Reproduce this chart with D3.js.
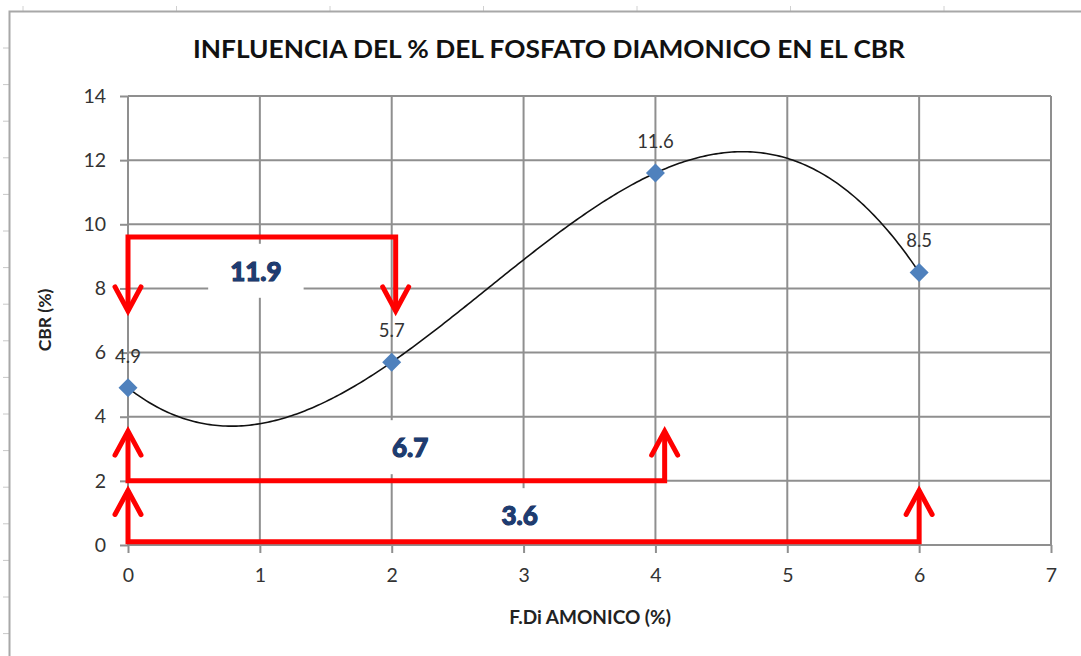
<!DOCTYPE html>
<html>
<head>
<meta charset="utf-8">
<script src="https://cdn.jsdelivr.net/npm/d3@7"></script>
<style>
  html, body { margin: 0; padding: 0; background: #ffffff; }
  svg { display: block; }
  text { font-family: Lato, "Open Sans", "DejaVu Sans", sans-serif; }
</style>
</head>
<body>
<svg id="chart" width="1081" height="656"></svg>
<script>
// ---------------- data ----------------
const title = "INFLUENCIA DEL % DEL FOSFATO DIAMONICO EN EL CBR";
const xAxisTitle = "F.Di AMONICO (%)";
const yAxisTitle = "CBR (%)";
const xValues = [0, 2, 4, 6];          // F.Di AMONICO (%)
const cbrValues = [4.9, 5.7, 11.6, 8.5]; // CBR (%)
const pointLabels = ["4.9", "5.7", "11.6", "8.5"];
const xTicks = [0, 1, 2, 3, 4, 5, 6, 7];
const yTicks = [0, 2, 4, 6, 8, 10, 12, 14];

// hand-drawn red annotation brackets (in data units)
const bracketLabels = ["11.9", "6.7", "3.6"];
const bracketStart = [0, 0, 0];
const bracketEnd = [2.03, 4.07, 6.0];
const bracketLevel = [9.6, 2.0, 0.1];
const bracketTip = [7.3, 3.55, 1.7];
const bracketLabelX = [0.97, 2.14, 2.97];
const bracketLabelY = [8.55, 3.05, 0.93];

// ---------------- layout ----------------
const svg = d3.select("#chart");
const plot = { left: 128, right: 1051, top: 96, bottom: 545 };
const x = d3.scaleLinear().domain([0, 7]).range([plot.left, plot.right]);
const y = d3.scaleLinear().domain([0, 14]).range([plot.bottom, plot.top]);
const gridColor = "#8f8f8f";

// spreadsheet frame remnants
svg.append("g").selectAll("line").data(d3.range(48, 656, 36.6)).join("line")
  .attr("x1", 3).attr("x2", 9).attr("y1", d => d).attr("y2", d => d)
  .attr("stroke", "#c8c8c8").attr("stroke-width", 1);
svg.append("g").selectAll("line").data(d3.range(23, 1081, 153.5)).join("line")
  .attr("x1", d => d).attr("x2", d => d).attr("y1", 6).attr("y2", 11)
  .attr("stroke", "#d0d0d0").attr("stroke-width", 1);
svg.append("path")
  .attr("d", "M9.5,656 L9.5,11.5 L1081,11.5")
  .attr("fill", "none").attr("stroke", "#a8a8a8").attr("stroke-width", 2);

// title
svg.append("text")
  .attr("x", 549).attr("y", 58)
  .attr("text-anchor", "middle")
  .attr("font-size", 25).attr("font-weight", "bold").attr("fill", "#111")
  .attr("textLength", 712).attr("lengthAdjust", "spacingAndGlyphs")
  .text(title);

// gridlines
const grid = svg.append("g");
grid.selectAll("line.v").data(xTicks).join("line").attr("class", "v")
  .attr("x1", d => x(d)).attr("x2", d => x(d))
  .attr("y1", plot.top).attr("y2", plot.bottom)
  .attr("stroke", gridColor).attr("stroke-width", 2);
grid.selectAll("line.h").data(yTicks).join("line").attr("class", "h")
  .attr("x1", plot.left).attr("x2", plot.right)
  .attr("y1", d => y(d)).attr("y2", d => y(d))
  .attr("stroke", gridColor).attr("stroke-width", 2);

// axes
const yAxis = svg.append("g").attr("transform", `translate(${plot.left},0)`)
  .call(d3.axisLeft(y).tickValues(yTicks).tickSize(8).tickPadding(14).tickFormat(d3.format("d")));
const xAxis = svg.append("g").attr("transform", `translate(0,${plot.bottom})`)
  .call(d3.axisBottom(x).tickValues(xTicks).tickSize(8).tickPadding(15).tickFormat(d3.format("d")));
[yAxis, xAxis].forEach(a => {
  a.select(".domain").remove();
  a.selectAll(".tick line").attr("stroke", gridColor).attr("stroke-width", 2);
  a.selectAll(".tick text").attr("font-size", 19.5).attr("fill", "#333")
    .attr("font-family", "Lato, 'Open Sans', sans-serif");
});

// axis titles
svg.append("text")
  .attr("x", 590).attr("y", 624).attr("text-anchor", "middle")
  .attr("font-size", 19).attr("font-weight", "bold").attr("fill", "#222")
  .text(xAxisTitle);
svg.append("text")
  .attr("transform", "translate(51,320) rotate(-90)")
  .attr("text-anchor", "middle")
  .attr("font-size", 17.5).attr("font-weight", "bold").attr("fill", "#222")
  .text(yAxisTitle);

// annotation label white boxes (cover gridlines)
const ann = bracketLabels.map((t, i) => ({
  label: t, x0: bracketStart[i], x1: bracketEnd[i], level: bracketLevel[i],
  tip: bracketTip[i], lx: bracketLabelX[i], ly: bracketLabelY[i]
}));
const boxG = svg.append("g");
const labelG = svg.append("g");
ann.forEach(a => {
  const t = labelG.append("text")
    .attr("x", x(a.lx)).attr("y", y(a.ly))
    .attr("text-anchor", "middle").attr("dominant-baseline", "central")
    .attr("font-size", 26).attr("font-weight", 900)
    .attr("fill", "#1d3c72").attr("stroke", "#0e2550").attr("stroke-width", 1)
    .style("paint-order", "stroke")
    .text(a.label);
  const bb = t.node().getBBox();
  boxG.append("rect")
    .attr("x", bb.x - 22).attr("y", y(a.ly) - 27)
    .attr("width", bb.width + 44).attr("height", 54)
    .attr("fill", "#ffffff");
});

// trendline: cubic polynomial through the data (least squares, order 3)
function polyfit(xs, ys, order) {
  const n = order + 1;
  const A = d3.range(n).map(r => d3.range(n).map(c => d3.sum(xs, xv => Math.pow(xv, r + c))));
  const b = d3.range(n).map(r => d3.sum(xs.map((xv, i) => ys[i] * Math.pow(xv, r))));
  for (let i = 0; i < n; i++) {
    let p = i;
    for (let k = i + 1; k < n; k++) if (Math.abs(A[k][i]) > Math.abs(A[p][i])) p = k;
    [A[i], A[p]] = [A[p], A[i]]; [b[i], b[p]] = [b[p], b[i]];
    for (let k = i + 1; k < n; k++) {
      const f = A[k][i] / A[i][i];
      for (let j = i; j < n; j++) A[k][j] -= f * A[i][j];
      b[k] -= f * b[i];
    }
  }
  const c = new Array(n).fill(0);
  for (let i = n - 1; i >= 0; i--) {
    let s = b[i];
    for (let j = i + 1; j < n; j++) s -= A[i][j] * c[j];
    c[i] = s / A[i][i];
  }
  return c;
}
const coef = polyfit(xValues, cbrValues, 3);
const poly = xv => coef.reduce((s, c, i) => s + c * Math.pow(xv, i), 0);
const xs = d3.range(d3.min(xValues), d3.max(xValues) + 0.001, 0.02);
svg.append("path")
  .datum(xs)
  .attr("fill", "none").attr("stroke", "#111").attr("stroke-width", 1.6)
  .attr("d", d3.line().x(d => x(d)).y(d => y(poly(d))));

// red annotations
const red = svg.append("g").attr("fill", "none").attr("stroke", "#ff0000")
  .attr("stroke-width", 5).attr("stroke-linejoin", "miter");
ann.forEach(a => {
  const yl = y(a.level), yt = y(a.tip);
  const dir = yt > yl ? 1 : -1; // 1 = pointing down
  red.append("path").attr("d",
    `M${x(a.x0)},${yt} L${x(a.x0)},${yl} L${x(a.x1)},${yl} L${x(a.x1)},${yt}`);
  [a.x0, a.x1].forEach(xv => {
    const px = x(xv);
    red.append("path").attr("stroke-linecap", "round")
      .attr("d", `M${px - 13},${yt - dir * 24} L${px},${yt} L${px + 13},${yt - dir * 24}`);
  });
});
labelG.raise();

// markers
const pts = xValues.map((xv, i) => ({ x: xv, y: cbrValues[i], label: pointLabels[i] }));
svg.append("g").selectAll("path").data(pts).join("path")
  .attr("transform", d => `translate(${x(d.x)},${y(d.y)})`)
  .attr("d", "M0,-9.5 L9.5,0 L0,9.5 L-9.5,0 Z")
  .attr("fill", "#4f81bd");

// data labels
svg.append("g").selectAll("text").data(pts).join("text")
  .attr("x", d => x(d.x)).attr("y", d => y(d.y) - 25)
  .attr("text-anchor", "middle")
  .attr("font-size", 18.5).attr("fill", "#333")
  .text(d => d.label);
</script>
</body>
</html>
